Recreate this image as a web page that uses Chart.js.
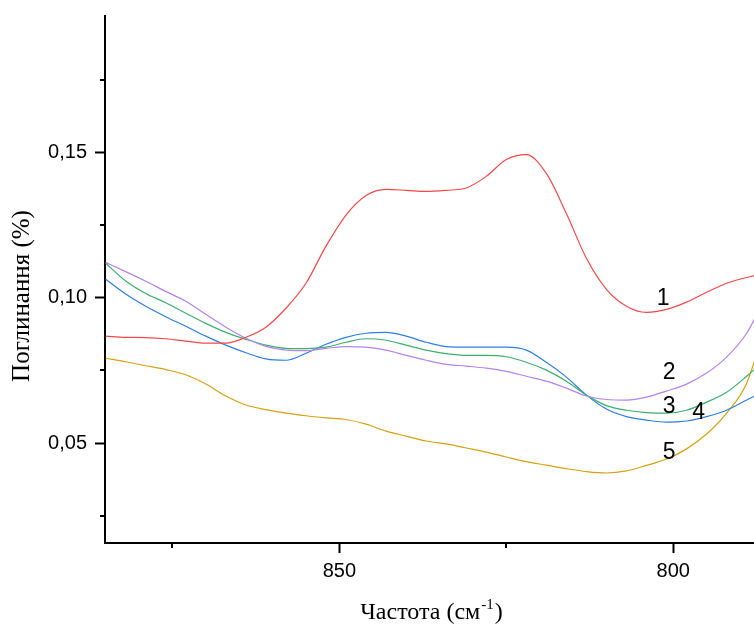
<!DOCTYPE html>
<html>
<head>
<meta charset="utf-8">
<script src="https://cdn.jsdelivr.net/npm/chart.js@4.4.1/dist/chart.umd.min.js"></script>
<style>
  html, body { margin: 0; padding: 0; background: #fff; }
  #wrap { width: 754px; height: 626px; }
</style>
</head>
<body>
<div id="wrap"><canvas id="chart-spectra" width="754" height="626"></canvas></div>
<script>
/*
  ==================================================
  ====================== DATOS ======================
  ==================================================
*/

const wavenumbers = [885, 882, 879, 876, 873, 870, 867, 864, 861, 858, 855, 852, 849, 846, 843, 840, 837,
  834, 831, 828, 825, 822, 819, 816, 813, 810, 807, 804, 801, 798, 795, 792, 789, 786];

const curve1 = [0.0868, 0.0864, 0.0863, 0.0859, 0.0851, 0.0844, 0.0844, 0.0864, 0.0899, 0.0964, 0.1050, 0.1178,
  0.1285, 0.1352, 0.1373, 0.1370, 0.1366, 0.1370, 0.1378, 0.1418, 0.1476, 0.1493, 0.1428, 0.1290, 0.1136,
  0.1029, 0.0971, 0.0950, 0.0960, 0.0985, 0.1019, 0.1050, 0.1070, 0.1084];
const curve2 = [0.1122, 0.1090, 0.1057, 0.1022, 0.0988, 0.0943, 0.0899, 0.0861, 0.0833, 0.0820, 0.0818, 0.0826,
  0.0832, 0.0830, 0.0820, 0.0802, 0.0785, 0.0771, 0.0765, 0.0758, 0.0747, 0.0730, 0.0713, 0.0689, 0.0662,
  0.0650, 0.0648, 0.0658, 0.0679, 0.0703, 0.0741, 0.0796, 0.0878, 0.1010];
const curve3 = [0.1119, 0.1058, 0.1015, 0.0983, 0.0947, 0.0912, 0.0881, 0.0857, 0.0837, 0.0826, 0.0825, 0.0830,
  0.0847, 0.0859, 0.0854, 0.0837, 0.0820, 0.0808, 0.0802, 0.0802, 0.0797, 0.0778, 0.0751, 0.0713, 0.0665,
  0.0629, 0.0613, 0.0605, 0.0603, 0.0613, 0.0641, 0.0675, 0.0730, 0.0792];
const curve4 = [0.1064, 0.1013, 0.0971, 0.0935, 0.0902, 0.0868, 0.0837, 0.0811, 0.0790, 0.0785, 0.0809, 0.0840,
  0.0864, 0.0878, 0.0881, 0.0868, 0.0847, 0.0832, 0.0830, 0.0830, 0.0830, 0.0820, 0.0778, 0.0727, 0.0665,
  0.0617, 0.0591, 0.0579, 0.0572, 0.0576, 0.0591, 0.0613, 0.0648, 0.0682];
const curve5 = [0.0792, 0.0780, 0.0766, 0.0753, 0.0735, 0.0703, 0.0662, 0.0631, 0.0615, 0.0603, 0.0594, 0.0587,
  0.0581, 0.0565, 0.0541, 0.0524, 0.0507, 0.0497, 0.0483, 0.0469, 0.0452, 0.0436, 0.0424, 0.0412, 0.0402,
  0.0397, 0.0404, 0.0423, 0.0445, 0.0480, 0.0531, 0.0603, 0.0706, 0.0920];

const curveNames = ['1', '2', '3', '4', '5'];
// donde va cada numero de curva (en unidades de datos)
const nameX = [801.5, 800.6, 800.6, 796.2, 800.6];
const nameY = [0.0998, 0.0741, 0.0627, 0.0603, 0.0466];

const xMajorTicks = [850, 800];
const xMinorTicks = [875, 825];
const yMajorTicks = [0.05, 0.10, 0.15];
const yMinorTicks = [0.025, 0.075, 0.125, 0.175];

/*
  ==================================================
  ===================== ESTILOS =====================
  ==================================================
*/

const colors = ['#f44848', '#b583ec', '#3daf6c', '#2f7ee6', '#d6a010'];
const sansFont = '"Liberation Sans", Arial, sans-serif';
const serifFont = '"Liberation Serif", "Times New Roman", serif';

/** @param {number[]} values */
let toPoints = (values) => wavenumbers.map((x, i) => ({ x, y: values[i] }));

let isMajor = (list, v) => list.some(m => Math.abs(m - v) < 1e-9);

/*
  ==================================================
  ===================== PLUGINS =====================
  ==================================================
*/

const decorations = {
  id: 'decorations',
  afterDraw(chart) {
    const { ctx, scales: { x, y }, chartArea } = chart;
    ctx.save();

    // ticks menores, mas cortos que los mayores
    ctx.strokeStyle = '#000';
    ctx.lineWidth = 2;
    ctx.beginPath();
    yMinorTicks.forEach(v => {
      let py = Math.round(y.getPixelForValue(v));
      ctx.moveTo(chartArea.left - 5, py);
      ctx.lineTo(chartArea.left, py);
    });
    xMinorTicks.forEach(v => {
      let px = Math.round(x.getPixelForValue(v));
      ctx.moveTo(px, chartArea.bottom);
      ctx.lineTo(px, chartArea.bottom + 5);
    });
    ctx.stroke();

    // numeros de las curvas
    ctx.fillStyle = '#000';
    ctx.font = '23px ' + sansFont;
    ctx.textAlign = 'center';
    ctx.textBaseline = 'middle';
    curveNames.forEach((name, i) => {
      ctx.fillText(name, x.getPixelForValue(nameX[i]), y.getPixelForValue(nameY[i]));
    });

    // titulo eje Y
    ctx.save();
    ctx.translate(29, 296);
    ctx.rotate(-Math.PI / 2);
    ctx.font = '25px ' + serifFont;
    ctx.textAlign = 'center';
    ctx.textBaseline = 'alphabetic';
    ctx.fillText('Поглинання (%)', 0, 0);
    ctx.restore();

    // titulo eje X con superindice
    let main = 'Частота (см', sup = '-1', close = ')';
    ctx.textAlign = 'left';
    ctx.textBaseline = 'alphabetic';
    ctx.font = '24px ' + serifFont;
    let wMain = ctx.measureText(main).width;
    let wClose = ctx.measureText(close).width;
    ctx.font = '15px ' + serifFont;
    let wSup = ctx.measureText(sup).width;
    let startX = (chartArea.left + chartArea.right) / 2 + 2 - (wMain + wSup + wClose + 2) / 2;
    let base = 619;
    ctx.font = '24px ' + serifFont;
    ctx.fillText(main, startX, base);
    ctx.font = '15px ' + serifFont;
    ctx.fillText(sup, startX + wMain + 1, base - 10);
    ctx.font = '24px ' + serifFont;
    ctx.fillText(close, startX + wMain + wSup + 2, base);

    ctx.restore();
  }
};

/*
  ==================================================
  ===================== GRAFICO =====================
  ==================================================
*/

/** @type {CanvasRenderingContext2D} */
let canvas = document.getElementById('chart-spectra').getContext('2d');

let chart = new Chart(canvas, {
  type: 'line',
  data: {
    datasets: [curve1, curve2, curve3, curve4, curve5].map((values, i) => ({
      label: curveNames[i],
      data: toPoints(values),
      borderColor: colors[i],
      borderWidth: 1.2,
      pointRadius: 0,
      fill: false,
      cubicInterpolationMode: 'monotone'
    }))
  },
  options: {
    responsive: false,
    animation: false,
    devicePixelRatio: 1,
    layout: { padding: { top: 16, right: 0, left: 0, bottom: 0 } },
    plugins: {
      legend: { display: false },
      tooltip: { enabled: false }
    },
    scales: {
      x: {
        type: 'linear',
        reverse: true,
        min: 787.9,
        max: 885.1,
        afterFit: (scale) => { scale.height = 83; scale.paddingLeft = 0; scale.paddingRight = 0; },
        afterBuildTicks: (scale) => {
          scale.ticks = xMajorTicks.concat(xMinorTicks).sort((a, b) => b - a).map(value => ({ value }));
        },
        border: { display: true, color: '#000', width: 2 },
        grid: {
          drawOnChartArea: false,
          tickLength: 10,
          tickWidth: 2,
          tickColor: (ctx) => ctx.tick && isMajor(xMajorTicks, ctx.tick.value) ? '#000' : 'rgba(0,0,0,0)'
        },
        ticks: {
          color: '#000',
          padding: 6,
          maxRotation: 0,
          autoSkip: false,
          font: { family: sansFont, size: 20 },
          callback: (v) => isMajor(xMajorTicks, v) ? String(v) : ''
        }
      },
      y: {
        type: 'linear',
        min: 0.0156,
        max: 0.197,
        afterFit: (scale) => { scale.width = 105; scale.paddingTop = 0; scale.paddingBottom = 0; },
        afterBuildTicks: (scale) => {
          scale.ticks = yMajorTicks.concat(yMinorTicks).sort((a, b) => a - b).map(value => ({ value }));
        },
        border: { display: true, color: '#000', width: 2 },
        grid: {
          drawOnChartArea: false,
          tickLength: 10,
          tickWidth: 2,
          tickColor: (ctx) => ctx.tick && isMajor(yMajorTicks, ctx.tick.value) ? '#000' : 'rgba(0,0,0,0)'
        },
        ticks: {
          color: '#000',
          padding: 8,
          autoSkip: false,
          font: { family: sansFont, size: 20 },
          callback: (v) => isMajor(yMajorTicks, v) ? v.toFixed(2).replace('.', ',') : ''
        }
      }
    }
  },
  plugins: [decorations]
});
</script>
</body>
</html>
